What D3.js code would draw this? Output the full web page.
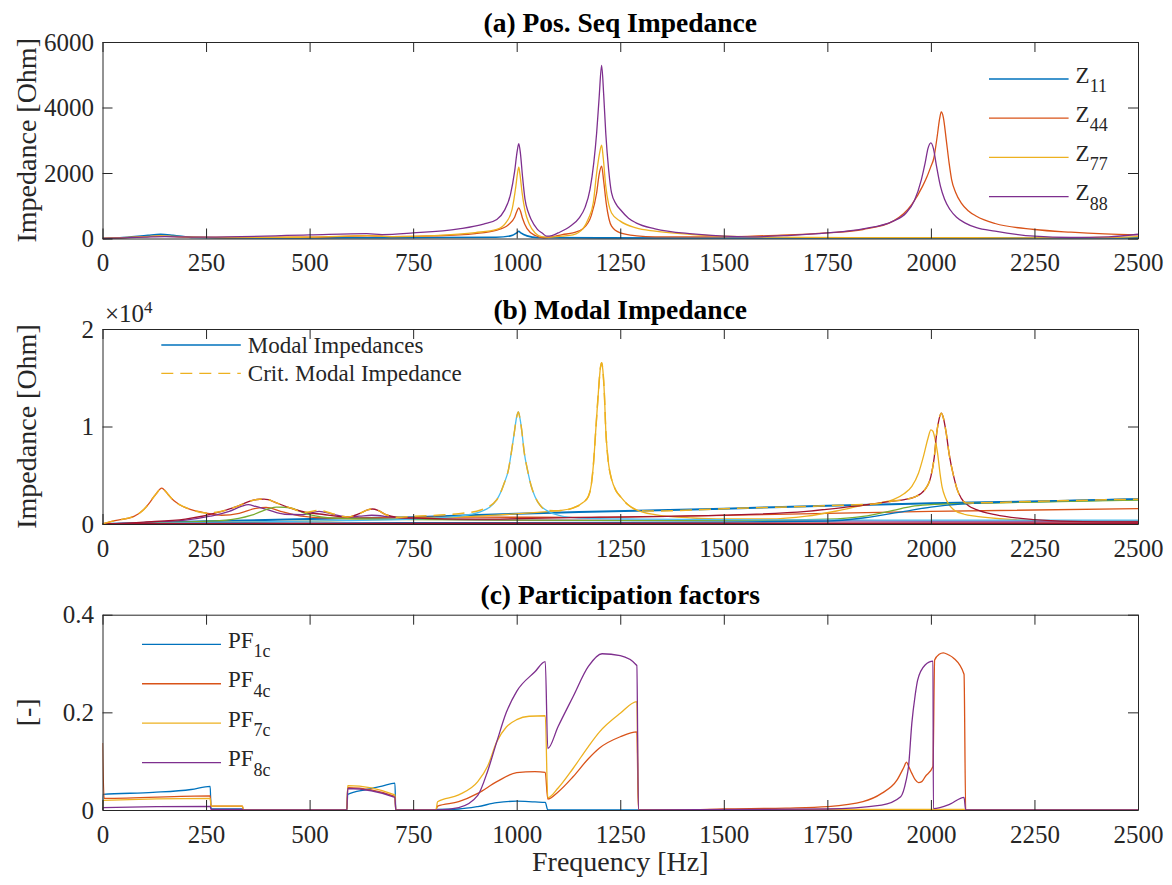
<!DOCTYPE html>
<html>
<head>
<meta charset="utf-8">
<script src="https://cdn.jsdelivr.net/npm/d3@7"></script>
</head>
<body style="margin:0;background:#fff">
<svg id="chart" width="1172" height="885" style="display:block"></svg>
<script>
const freqTicks = [0, 250, 500, 750, 1000, 1250, 1500, 1750, 2000, 2250, 2500];
const posSeqTicks = [0, 2000, 4000, 6000];
const modalTicks = [0, 10000, 20000];
const pfTicks = [0, 0.2, 0.4];

// (a) positive sequence impedances, [Hz, Ohm]
const z11 = [[0,0],[60,40],[110,100],[140,125],[170,100],[220,30],[300,15],[500,20],[700,25],[950,40],[985,80],[1000,170],[1005,220],[1010,170],[1025,80],[1050,30],[1200,20],[1500,15],[2000,15],[2500,20]];
const z44 = [[0,0],[80,40],[140,70],[200,40],[300,30],[500,40],[640,80],[700,60],[800,80],[900,150],[950,250],[980,420],[995,650],[1001,850],[1005,936],[1009,840],[1014,620],[1025,300],[1045,90],[1065,20],[1085,50],[1110,120],[1136,170],[1160,300],[1180,700],[1193,1390],[1199,1950],[1205,2207],[1210,1750],[1216,1090],[1229,376],[1250,170],[1290,80],[1334,50],[1500,50],[1608,90],[1750,170],[1836,275],[1909,530],[1954,1040],[1980,1600],[1991,1900],[2000,2200],[2007,2450],[2015,3100],[2021,3650],[2025,3864],[2030,3700],[2037,3020],[2044,2300],[2050,1800],[2060,1400],[2073,1090],[2090,850],[2110,680],[2155,458],[2250,275],[2338,193],[2420,140],[2500,110]];
const z77 = [[0,0],[80,40],[140,80],[200,50],[300,30],[500,40],[640,90],[700,60],[800,90],[900,180],[952,275],[975,500],[989,900],[998,1600],[1002,2000],[1005,2176],[1008,1950],[1013,1400],[1020,850],[1030,450],[1045,160],[1060,60],[1080,40],[1110,70],[1136,110],[1160,300],[1173,600],[1185,1100],[1193,2000],[1200,2600],[1205,2847],[1209,2450],[1215,1600],[1222,1050],[1229,780],[1250,530],[1288,325],[1334,224],[1425,120],[1500,70],[1600,40],[1800,25],[2000,25],[2200,20],[2400,30],[2500,60]];
const z88 = [[0,0],[100,40],[150,60],[250,40],[500,110],[638,150],[675,120],[750,170],[860,295],[920,440],[952,580],[970,850],[985,1350],[995,2050],[1001,2650],[1005,2900],[1009,2600],[1014,1900],[1020,1200],[1028,800],[1035,580],[1050,280],[1063,150],[1072,70],[1085,90],[1100,170],[1130,380],[1151,630],[1165,950],[1177,1500],[1186,2300],[1193,3220],[1199,4300],[1205,5288],[1210,4400],[1215,3220],[1222,2100],[1229,1390],[1240,1050],[1250,885],[1270,620],[1288,478],[1334,295],[1425,140],[1500,70],[1562,50],[1653,90],[1750,170],[1836,295],[1909,530],[1940,780],[1960,1150],[1977,1800],[1986,2300],[1993,2750],[2000,2919],[2006,2750],[2013,2250],[2023,1600],[2033,1200],[2046,885],[2062,650],[2082,478],[2110,330],[2155,224],[2250,70],[2338,30],[2429,50],[2500,130]];

// (b) modal impedances, [Hz, Ohm]
const modeBlue1 = [[0,0],[250,270],[500,510],[750,690],[1000,1060],[1150,1230],[1500,1570],[1750,1877],[2000,2116],[2250,2320],[2500,2550]];
const modeOrange = [[0,0],[30,340],[76,785],[100,1500],[113,2150],[124,2800],[131,3170],[138,3550],[143,3686],[148,3550],[159,3000],[172,2400],[186,1980],[214,1470],[251,1126],[288,900],[330,1100],[370,1600],[395,1700],[430,1300],[480,800],[550,600],[700,650],[900,700],[1151,683],[1500,887],[2000,1297],[2500,1570]];
const modeYellow = [[0,0],[500,300],[800,600],[950,900],[1050,1200],[1100,1365],[1136,1640],[1160,2200],[1173,2830],[1180,4000],[1185,6000],[1192,10340],[1198,14000],[1202,16000],[1205,16550],[1208,15800],[1212,13000],[1215,9660],[1219,7300],[1222,6100],[1229,4600],[1240,3400],[1250,2830],[1268,2000],[1288,1470],[1334,955],[1425,614],[1500,512],[1608,512],[1700,800],[1780,1400],[1836,1900],[1880,2200],[1909,2490],[1935,3100],[1954,3860],[1970,5200],[1982,6930],[1993,8800],[2000,9660],[2005,9500],[2010,8700],[2016,7300],[2022,5200],[2027,3800],[2035,2700],[2045,1900],[2055,1470],[2080,1000],[2110,785],[2201,444],[2250,341],[2350,300],[2500,280]];
const modePurple = [[0,0],[200,400],[260,800],[306,1300],[335,1800],[352,1980],[370,1800],[398,1470],[440,1000],[480,950],[523,1300],[555,1000],[592,720],[620,800],[650,900],[700,700],[800,500],[1000,400],[1500,350],[2000,300],[2500,300]];
const modeGreen = [[0,0],[300,400],[360,900],[400,1550],[420,1740],[440,1720],[454,1640],[480,1250],[500,955],[560,600],[750,450],[1000,400],[1500,350],[1750,500],[1836,785],[1909,1400],[1954,1810],[2000,1980],[2063,2080],[2250,2250],[2500,2450]];
const modeCyan = [[0,0],[250,150],[500,300],[750,500],[860,800],[915,1300],[952,2490],[970,4200],[980,5560],[988,7600],[994,9320],[1000,11000],[1004,11500],[1008,10800],[1012,9660],[1018,7400],[1026,5560],[1035,3900],[1044,2830],[1057,1900],[1072,1400],[1100,900],[1151,600],[1300,500],[1500,444],[1750,420],[2000,400],[2500,400]];
const modeRed = [[0,0],[100,200],[200,500],[288,1300],[325,1810],[362,2420],[380,2540],[390,2560],[400,2500],[417,2220],[454,1640],[491,1195],[530,1000],[592,717],[620,1060],[640,1450],[652,1536],[665,1400],[684,955],[712,683],[750,600],[900,500],[1200,700],[1500,900],[1700,1300],[1800,1750],[1860,2050],[1909,2350],[1936,2500],[1960,2750],[1985,3500],[2000,4880],[2008,6800],[2014,9320],[2020,10800],[2025,11365],[2030,10900],[2037,9320],[2044,7200],[2055,4880],[2063,3600],[2073,2660],[2090,1900],[2110,1470],[2155,955],[2250,444],[2338,273],[2500,205]];
const modeBlue2 = [[0,0],[500,100],[1000,150],[1500,200],[1750,300],[1836,614],[1936,1300],[2000,1740],[2073,2050],[2150,2200],[2250,2330],[2500,2560]];
const modeRed2 = [[0,0],[1000,50],[2500,80]];
const critMode = [[0,0],[30,340],[76,785],[100,1500],[113,2150],[124,2800],[131,3170],[138,3550],[143,3686],[148,3550],[159,3000],[172,2400],[186,1980],[214,1470],[251,1126],[288,1300],[325,1810],[362,2420],[380,2540],[390,2560],[400,2500],[417,2220],[454,1640],[491,1195],[523,1400],[555,1060],[592,717],[620,1060],[640,1450],[652,1536],[665,1400],[684,955],[712,683],[750,785],[860,1060],[915,1470],[952,2490],[970,4200],[980,5560],[988,7600],[994,9320],[1000,11000],[1004,11500],[1008,10800],[1012,9660],[1018,7400],[1026,5560],[1035,3900],[1044,2830],[1057,1900],[1072,1400],[1100,1365],[1136,1640],[1160,2200],[1173,2830],[1180,4000],[1185,6000],[1192,10340],[1198,14000],[1202,16000],[1205,16550],[1208,15800],[1212,13000],[1215,9660],[1219,7300],[1222,6100],[1229,4600],[1240,3400],[1250,2830],[1268,2000],[1288,1470],[1320,1330],[1500,1570],[1750,1877],[1800,1950],[1860,2050],[1909,2350],[1936,2500],[1960,2750],[1985,3500],[2000,4880],[2008,6800],[2014,9320],[2020,10800],[2025,11365],[2030,10900],[2037,9320],[2044,7200],[2055,4880],[2063,3600],[2073,2660],[2085,2150],[2150,2200],[2250,2320],[2500,2550]];

// (c) participation factors, [Hz, -]
const pf1c = [[0,0],[1,0.032],[122,0.036],[214,0.042],[260,0.0485],[262,0.003],[338,0.002],[340,0],[590,0],[592,0.032],[638,0.042],[675,0.049],[706,0.055],[708,0],[805,0],[809,0.001],[860,0.002],[906,0.007],[952,0.015],[1000,0.018],[1044,0.0165],[1069,0.0157],[1075,0],[2500,0]];
const pf4c = [[0,0.137],[4,0.024],[260,0.029],[262,0.008],[338,0.008],[340,0],[590,0],[592,0.046],[706,0.028],[708,0],[805,0],[809,0.008],[860,0.017],[906,0.034],[952,0.058],[1000,0.0765],[1044,0.0785],[1069,0.077],[1075,0.0225],[1100,0.037],[1136,0.068],[1173,0.105],[1200,0.127],[1250,0.15],[1290,0.16],[1294,0],[1400,0],[1500,0.002],[1650,0.004],[1750,0.007],[1836,0.017],[1881,0.034],[1918,0.061],[1935,0.088],[1941,0.098],[1947,0.088],[1954,0.075],[1962,0.062],[1970,0.056],[1978,0.058],[1986,0.068],[2005,0.089],[2009,0.307],[2020,0.319],[2030,0.322],[2042,0.318],[2055,0.311],[2080,0.278],[2084,0],[2500,0]];
const pf7c = [[0,0],[1,0.0198],[260,0.024],[262,0.008],[338,0.008],[340,0],[590,0],[592,0.05],[706,0.031],[708,0],[805,0],[809,0.017],[860,0.031],[906,0.058],[930,0.09],[952,0.14],[975,0.17],[1000,0.185],[1030,0.192],[1069,0.193],[1075,0.025],[1100,0.045],[1136,0.085],[1173,0.13],[1200,0.16],[1250,0.198],[1290,0.222],[1294,0],[1750,0.001],[2084,0.001],[2086,0],[2500,0]];
const pf8c = [[0,0],[1,0.005],[260,0.0075],[262,0.001],[338,0.001],[340,0],[590,0],[592,0.044],[706,0.026],[708,0],[809,0],[860,0.005],[906,0.03],[930,0.08],[952,0.14],[975,0.2],[1000,0.243],[1044,0.283],[1069,0.304],[1075,0.126],[1100,0.171],[1136,0.232],[1173,0.294],[1206,0.32],[1250,0.316],[1290,0.296],[1294,0],[1750,0.002],[1881,0.01],[1927,0.027],[1940,0.06],[1946,0.089],[1954,0.178],[1962,0.235],[1968,0.266],[1986,0.297],[2005,0.305],[2006,0.003],[2046,0.012],[2080,0.026],[2084,0],[2500,0]];

const C = {
  blue: "#0072BD", orange: "#D95319", yellow: "#EDB120", purple: "#7E2F8E",
  green: "#77AC30", cyan: "#4DBEEE", red: "#A2142F"
};
const axisColor = "#262626";
const fontName = "Liberation Serif";
const tickSize = 25, labelSize = 28, titleSize = 27.5, legendSize = 23;

const svg = d3.select("#chart");
const x = d3.scaleLinear().domain([0, 2500]).range([102.5, 1138]);

// every text gets the serif face set on itself
function txt(parent, size) {
  return parent.append("text")
    .style("font-family", fontName)
    .attr("font-size", size);
}

function panel(opts) {
  const y = d3.scaleLinear().domain(opts.domain).range([opts.bottom, opts.top]);
  const g = svg.append("g");
  const clipId = "clip" + opts.id;
  svg.append("clipPath").attr("id", clipId)
    .append("rect")
    .attr("x", x.range()[0]).attr("y", opts.top - 1)
    .attr("width", x.range()[1] - x.range()[0]).attr("height", opts.bottom - opts.top + 2);

  const plot = g.append("g").attr("clip-path", `url(#${clipId})`);

  const axes = [
    { a: d3.axisBottom(x).tickValues(freqTicks).tickFormat(d3.format("d")).tickPadding(15), t: `translate(0,${opts.bottom})` },
    { a: d3.axisTop(x).tickValues(freqTicks).tickFormat(""), t: `translate(0,${opts.top})` },
    { a: d3.axisLeft(y).tickValues(opts.ticks).tickFormat(opts.fmt).tickPadding(8.5), t: `translate(${x.range()[0]},0)` },
    { a: d3.axisRight(y).tickValues(opts.ticks).tickFormat(""), t: `translate(${x.range()[1]},0)` }
  ];
  axes.forEach(ax => {
    const ag = g.append("g").attr("transform", ax.t)
      .call(ax.a.tickSize(-10).tickSizeOuter(0));
    ag.attr("font-family", fontName).attr("font-size", tickSize);
    ag.selectAll("path, line").attr("stroke", axisColor).attr("stroke-width", 1);
    ag.selectAll("text").attr("fill", axisColor).style("font-family", fontName);
  });

  txt(g, titleSize)
    .attr("x", (x.range()[0] + x.range()[1]) / 2)
    .attr("y", opts.top - 10.5)
    .attr("text-anchor", "middle")
    .attr("font-weight", "bold")
    .attr("fill", "#000")
    .text(opts.title);

  txt(g, labelSize)
    .attr("transform", `translate(36,${(opts.top + opts.bottom) / 2}) rotate(-90)`)
    .attr("text-anchor", "middle")
    .attr("fill", axisColor)
    .text(opts.ylabel);

  const line = d3.line().curve(d3.curveMonotoneX).x(d => x(d[0])).y(d => y(d[1]));
  return { g, plot, y, line };
}

function drawSeries(p, series) {
  series.forEach(s => {
    p.plot.append("path")
      .datum(s.data)
      .attr("d", p.line)
      .attr("fill", "none")
      .attr("stroke", s.color)
      .attr("stroke-width", s.width || 1.3)
      .attr("stroke-dasharray", s.dash || null)
      .attr("stroke-linejoin", "round");
  });
}

function legendEntry(g, x1, x2, yLine, color, dash, base, sub) {
  g.append("line")
    .attr("x1", x1).attr("x2", x2).attr("y1", yLine).attr("y2", yLine)
    .attr("stroke", color).attr("stroke-width", 1.3)
    .attr("stroke-dasharray", dash || null);
  const t = txt(g, legendSize)
    .attr("x", x2 + 7).attr("y", yLine + (sub ? 3.5 : 8))
    .attr("fill", axisColor);
  t.append("tspan").text(base);
  if (sub) {
    t.append("tspan").attr("dy", 9.5).attr("font-size", 18).text(sub);
  }
}

// (a)
const pa = panel({
  id: "a", top: 42, bottom: 238.5, domain: [0, 6000], ticks: posSeqTicks,
  fmt: d3.format("d"), title: "(a) Pos. Seq Impedance", ylabel: "Impedance [Ohm]"
});
drawSeries(pa, [
  { data: z11, color: C.blue, width: 1.6 },
  { data: z44, color: C.orange },
  { data: z77, color: C.yellow },
  { data: z88, color: C.purple }
]);
[["11", C.blue], ["44", C.orange], ["77", C.yellow], ["88", C.purple]].forEach((d, i) => {
  legendEntry(pa.g, 989, 1068.6, 79 + i * 39.2, d[1], null, "Z", d[0]);
});

// (b)
const pb = panel({
  id: "b", top: 329, bottom: 524, domain: [0, 20000], ticks: modalTicks,
  fmt: d => d3.format("d")(d / 10000), title: "(b) Modal Impedance", ylabel: "Impedance [Ohm]"
});
drawSeries(pb, [
  { data: modeBlue1, color: C.blue, width: 2 },
  { data: modeOrange, color: C.orange },
  { data: modeYellow, color: C.yellow },
  { data: modePurple, color: C.purple },
  { data: modeGreen, color: C.green },
  { data: modeCyan, color: C.cyan },
  { data: modeRed, color: C.red },
  { data: modeBlue2, color: C.blue },
  { data: modeRed2, color: C.red, width: 2 },
  { data: critMode, color: C.yellow, dash: "12,7", width: 1.5 }
]);
const expo = txt(pb.g, tickSize)
  .attr("x", 105).attr("y", 321.5)
  .attr("fill", axisColor);
expo.append("tspan").text("\u00d710");
expo.append("tspan").attr("dy", -9).attr("font-size", 17).text("4");
legendEntry(pb.g, 161.3, 240.8, 345, C.blue, null, "Modal Impedances", null);
legendEntry(pb.g, 161.3, 240.8, 373.3, C.yellow, "12,7", "Crit. Modal Impedance", null);

// (c)
const pc = panel({
  id: "c", top: 614.7, bottom: 810, domain: [0, 0.4], ticks: pfTicks,
  fmt: d3.format(".1~f"), title: "(c) Participation factors", ylabel: "[-]"
});
drawSeries(pc, [
  { data: pf1c, color: C.blue },
  { data: pf4c, color: C.orange },
  { data: pf7c, color: C.yellow },
  { data: pf8c, color: C.purple }
]);
[["1c", C.blue], ["4c", C.orange], ["7c", C.yellow], ["8c", C.purple]].forEach((d, i) => {
  legendEntry(pc.g, 142, 221, 644.3 + i * 39.45, d[1], null, "PF", d[0]);
});

txt(svg, labelSize)
  .attr("x", (x.range()[0] + x.range()[1]) / 2)
  .attr("y", 871)
  .attr("text-anchor", "middle")
  .attr("fill", axisColor)
  .text("Frequency [Hz]");
</script>
</body>
</html>
